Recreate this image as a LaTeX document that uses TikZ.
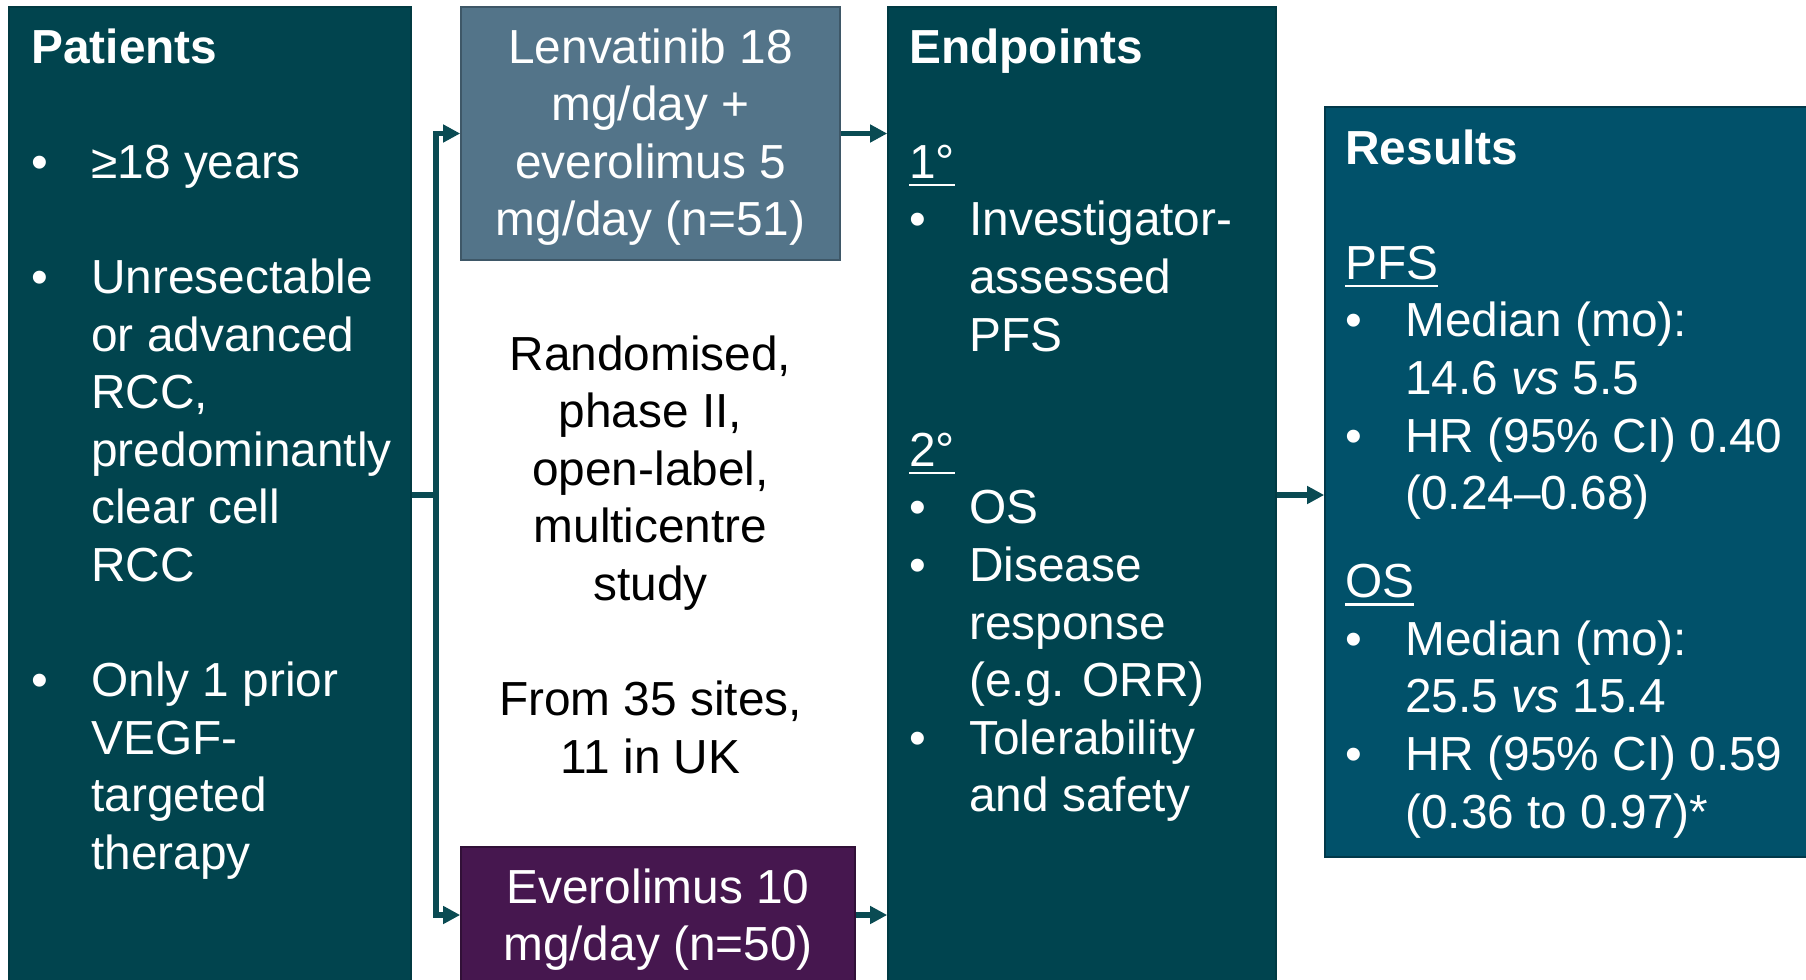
\documentclass[tikz,border=0pt]{standalone}
\usepackage{fontspec}
\setmainfont{Liberation Sans}
\usetikzlibrary{arrows.meta}

\definecolor{patfill}{HTML}{01444E}
\definecolor{epfill}{HTML}{00444F}
\definecolor{resfill}{HTML}{01516A}
\definecolor{lenfill}{HTML}{537489}
\definecolor{evefill}{HTML}{46174F}
\definecolor{linkcol}{HTML}{0A4B53}

% bullet with hanging indent, continuation indent, thick underline
\newcommand\bul{\makebox[30pt][l]{•}}
\newcommand\ind{\hspace*{30pt}}
\newcommand\ulin[1]{\setbox0\hbox{#1}\rlap{\rule[-4pt]{\wd0}{1.2pt}}\box0}

% text blocks are placed by the baseline of their last line
\tikzset{
  panel/.style={rectangle, inner sep=0pt, line width=0.8pt},
  bodytext/.style={inner sep=0pt, font=\fontsize{23.9}{28.8}\selectfont},
  lefttext/.style={bodytext, align=left, anchor=base west, text=white},
  midtext/.style={bodytext, align=center, anchor=base},
  link/.style={draw=linkcol, line width=2.6pt},
  flow/.style={link, -{Triangle[length=8.5pt,width=8.5pt]}},
}

\begin{document}
\begin{tikzpicture}[x=0.5pt, y=-0.5pt]
\useasboundingbox (0,0) rectangle (1806,980);
\clip (0,0) rectangle (1806,980);
\fill[white] (0,0) rectangle (1806,980);

% boxes
\node[panel, fill=patfill, draw=patfill!85!black, minimum width=201pt, minimum height=488pt] (pat) at (210,495) {};
\node[panel, fill=lenfill, draw=lenfill!75!black, minimum width=189.5pt, minimum height=126.5pt] (len) at (650.5,133.5) {};
\node[panel, fill=evefill, draw=evefill!70!black, minimum width=197pt, minimum height=68pt] (ev) at (658,915) {};
\node[panel, fill=epfill, draw=epfill!85!black, minimum width=194pt, minimum height=488pt] (ep) at (1082,495) {};
\node[panel, fill=resfill, draw=resfill!70!black, minimum width=242.5pt, minimum height=375pt] (res) at (1567.5,482) {};

% texts
\node[lefttext] (pattxt) at (31,869.4) {\textbf{Patients}\\[28.8pt]
\bul ≥18 years\\[28.8pt]
\bul Unresectable\\
\ind or advanced\\
\ind RCC,\\
\ind predominantly\\
\ind clear cell\\
\ind RCC\\[28.8pt]
\bul Only 1 prior\\
\ind VEGF-\\
\ind targeted\\
\ind therapy};

\node[midtext, text=white] (lentxt) at (650.5,235.8) {Lenvatinib 18\\ mg/day +\\ everolimus 5\\ mg/day (n=51)};

\node[midtext, text=black] (design) at (650.5,773.2) {Randomised,\\ phase II,\\ open-label,\\ multicentre\\ study\\[28.8pt] From 35 sites,\\ 11 in UK};

\node[midtext, text=white] (evtxt) at (658,960.6) {Everolimus 10\\ mg/day (n=50)};

\node[lefttext] (eptxt) at (909,811.8) {\textbf{Endpoints}\\[28.8pt]
\ulin{1°}\\
\bul Investigator-\\
\ind assessed\\
\ind PFS\\[28.8pt]
\ulin{2°}\\
\bul OS\\
\bul Disease\\
\ind response\\
\ind (e.g. ORR)\\
\bul Tolerability\\
\ind and safety};

\node[lefttext] (restxt) at (1345,828) {\textbf{Results}\\[28.8pt]
\ulin{PFS}\\
\bul Median (mo):\\
\ind 14.6 \textit{vs} 5.5\\
\bul HR (95\% CI) 0.40\\
\ind (0.24–0.68)\\[15.2pt]
\ulin{OS}\\
\bul Median (mo):\\
\ind 25.5 \textit{vs} 15.4\\
\bul HR (95\% CI) 0.59\\
\ind (0.36 to 0.97)*};

% connectors
\coordinate (split) at (436,495);
\draw[link] (pat.east) -- (split);
\draw[flow] (split) |- (len.west);
\draw[flow] (split) |- (ev.west);
\draw[flow] (len.east) -- (len.east -| ep.west);
\draw[flow] (ev.east) -- (ev.east -| ep.west);
\draw[flow] (ep.east) -- (ep.east -| res.west);
\end{tikzpicture}
\end{document}
